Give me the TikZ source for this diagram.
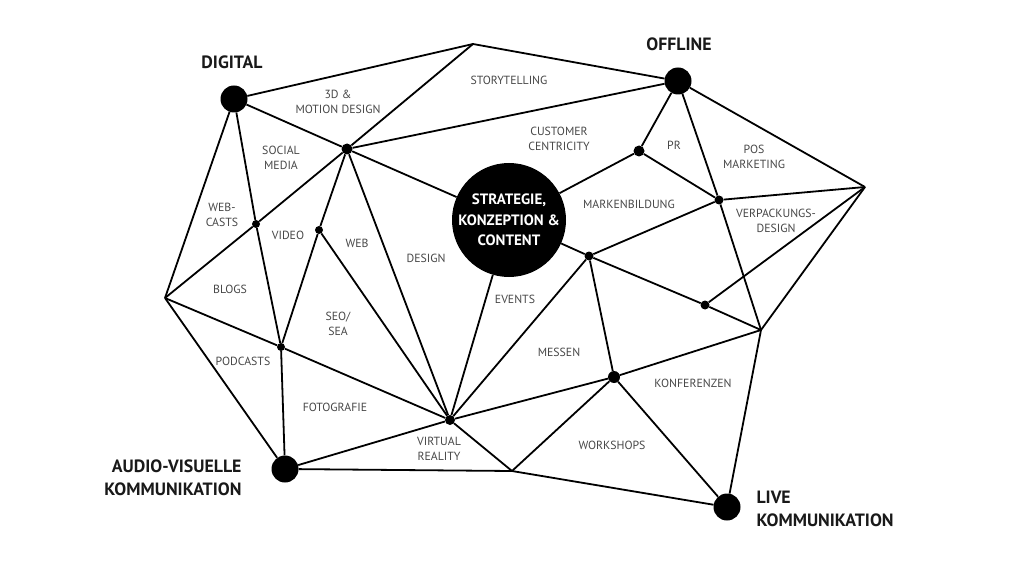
\documentclass[tikz,border=0pt]{standalone}
\usepackage{fontspec}
\setmainfont{PT Sans}
\begin{document}
\begin{tikzpicture}[x=1pt,y=-1pt,
  edge/.style={line width=1.8pt},
  big/.style={circle, fill=black, minimum size=27pt, inner sep=0pt},
  dot/.style={circle, fill=black, minimum size=9pt, inner sep=0pt},
  lbl/.style={font=\fontsize{11.8}{15.5}\selectfont, text=black!72, align=center},
  ttl/.style={font=\bfseries\fontsize{17.8}{23.5}\selectfont, text=black!90}]
\useasboundingbox (0,0) rectangle (1024,577);
% main nodes
\node[circle, fill=black, minimum size=114pt, inner sep=0pt,
  font=\bfseries\fontsize{15}{20.5}\selectfont, text=white, align=center] (C) at (509,220) {STRATEGIE,\\KONZEPTION \&\\CONTENT};
\node[big] (D) at (234,99) {};
\node[big] (O) at (678,81) {};
\node[big] (A) at (285,469) {};
\node[big] (L) at (727,507) {};
% dots
\node[dot, minimum size=11pt] (M3D) at (347,149) {};
\node[dot, minimum size=8pt] (W) at (256,224) {};
\node[dot, minimum size=8pt] (V) at (319,230) {};
\node[dot, minimum size=8pt] (P) at (281,347) {};
\node[dot, minimum size=10pt] (VR) at (450,420) {};
\node[dot, minimum size=11pt] (PR) at (639,151) {};
\node[dot, minimum size=9pt] (MB) at (719,200) {};
\node[dot, minimum size=9pt] (EV) at (589,256) {};
\node[dot, minimum size=9pt] (S) at (705,305) {};
\node[dot, minimum size=12pt] (ME) at (614,377) {};
% corners
\coordinate (T) at (473,44);
\coordinate (LF) at (165,298);
\coordinate (R) at (865,187);
\coordinate (RL) at (761,330);
\coordinate (B) at (512,471);
% edges
\draw[edge] (D) -- (T) -- (O);
\draw[edge] (T) -- (M3D);
\draw[edge] (D) -- (M3D);
\draw[edge] (M3D) -- (O);
\draw[edge] (M3D) -- (C);
\draw[edge] (D) -- (W);
\draw[edge] (W) -- (P);
\draw[edge] (D) -- (LF);
\draw[edge] (M3D) -- (W);
\draw[edge] (W) -- (LF);
\draw[edge] (M3D) -- (V);
\draw[edge] (M3D) -- (VR);
\draw[edge] (V) -- (P);
\draw[edge] (V) -- (VR);
\draw[edge] (LF) -- (P);
\draw[edge] (P) -- (VR);
\draw[edge] (LF) -- (A);
\draw[edge] (P) -- (A);
\draw[edge] (A) -- (VR);
\draw[edge] (A) -- (B);
\draw[edge] (VR) -- (B);
\draw[edge] (VR) -- (C);
\draw[edge] (VR) -- (EV);
\draw[edge] (VR) -- (ME);
\draw[edge] (ME) -- (RL);
\draw[edge] (B) -- (ME);
\draw[edge] (B) -- (L);
\draw[edge] (ME) -- (L);
\draw[edge] (RL) -- (L);
\draw[edge] (EV) -- (ME);
\draw[edge] (C) -- (EV);
\draw[edge] (EV) -- (S);
\draw[edge] (S) -- (RL);
\draw[edge] (S) -- (R);
\draw[edge] (R) -- (RL);
\draw[edge] (EV) -- (MB);
\draw[edge] (O) -- (MB);
\draw[edge] (MB) -- (RL);
\draw[edge] (PR) -- (MB);
\draw[edge] (PR) -- (O);
\draw[edge] (C) -- (PR);
\draw[edge] (MB) -- (R);
\draw[edge] (O) -- (R);
% titles
\node[ttl] (tD) at (232,62) {DIGITAL};
\node[ttl] (tO) at (679,44) {OFFLINE};
\node[ttl, anchor=east, align=right] (tA) at (245,478) {AUDIO-VISUELLE\\KOMMUNIKATION};
\node[ttl, anchor=west, align=left] (tL) at (753,509) {LIVE\\KOMMUNIKATION};
% labels
\node[lbl] (l1) at (338,102) {3D \&\\MOTION DESIGN};
\node[lbl] (l2) at (509,80) {STORYTELLING};
\node[lbl] (l3) at (559,139) {CUSTOMER\\CENTRICITY};
\node[lbl] (l4) at (674,145) {PR};
\node[lbl] (l5) at (754,157) {POS\\MARKETING};
\node[lbl] (l6) at (281,158) {SOCIAL\\MEDIA};
\node[lbl] (l7) at (222,215) {WEB-\\CASTS};
\node[lbl] (l8) at (288,235) {VIDEO};
\node[lbl] (l9) at (357,243) {WEB};
\node[lbl] (l10) at (426,258) {DESIGN};
\node[lbl] (l11) at (629,204) {MARKENBILDUNG};
\node[lbl] (l12) at (776,221) {VERPACKUNGS-\\DESIGN};
\node[lbl] (l13) at (230,289) {BLOGS};
\node[lbl] (l14) at (338,324) {SEO/\\SEA};
\node[lbl] (l15) at (515,299) {EVENTS};
\node[lbl] (l16) at (243,361) {PODCASTS};
\node[lbl] (l17) at (559,352) {MESSEN};
\node[lbl] (l18) at (693,383) {KONFERENZEN};
\node[lbl] (l19) at (335,407) {FOTOGRAFIE};
\node[lbl] (l20) at (439,449) {VIRTUAL\\REALITY};
\node[lbl] (l21) at (612,445) {WORKSHOPS};
\end{tikzpicture}
\end{document}
